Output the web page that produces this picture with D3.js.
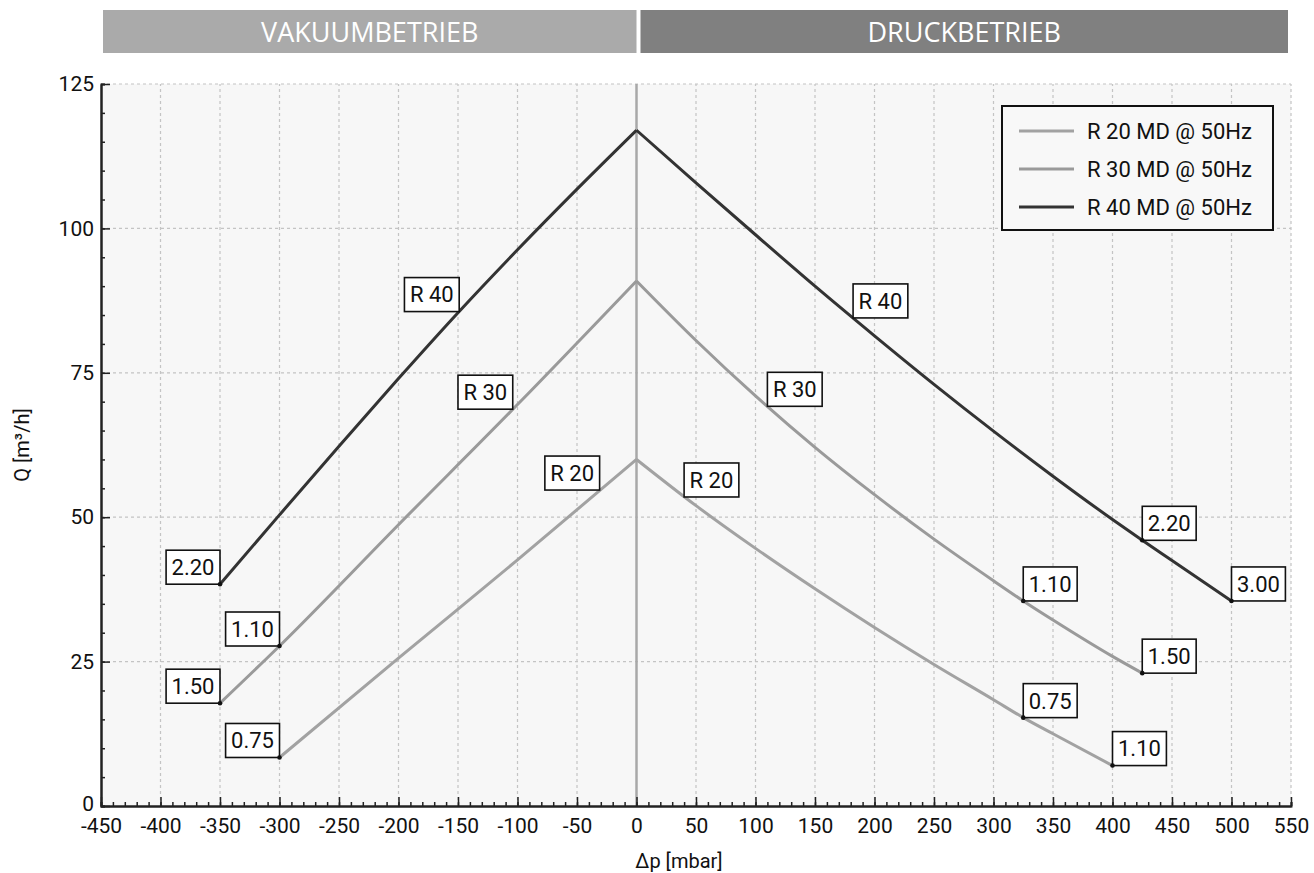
<!DOCTYPE html>
<html><head><meta charset="utf-8">
<script src="https://cdn.jsdelivr.net/npm/d3@7"></script>
<style>
body{margin:0;background:#fff}
svg{display:block}
text{font-family:Roboto,"DejaVu Sans",sans-serif}
</style>
</head><body>
<svg id="c" width="1314" height="873"></svg>
<script>
// ---- data ----
const xTickValues = [-450,-400,-350,-300,-250,-200,-150,-100,-50,0,50,100,150,200,250,300,350,400,450,500,550];
const xMinorTicks = [-450,-440,-430,-420,-410,-400,-390,-380,-370,-360,-350,-340,-330,-320,-310,-300,-290,-280,-270,-260,-250,-240,-230,-220,-210,-200,-190,-180,-170,-160,-150,-140,-130,-120,-110,-100,-90,-80,-70,-60,-50,-40,-30,-20,-10,0,10,20,30,40,50,60,70,80,90,100,110,120,130,140,150,160,170,180,190,200,210,220,230,240,250,260,270,280,290,300,310,320,330,340,350,360,370,380,390,400,410,420,430,440,450,460,470,480,490,500,510,520,530,540,550];
const yTickValues = [0,25,50,75,100,125];
const yMinorTicks = [0,5,10,15,20,25,30,35,40,45,50,55,60,65,70,75,80,85,90,95,100,105,110,115,120,125];
const sectionNames = ["VAKUUMBETRIEB","DRUCKBETRIEB"];
const seriesNames = ["R 20 MD @ 50Hz","R 30 MD @ 50Hz","R 40 MD @ 50Hz"];
const shortNames = ["R 20","R 30","R 40"];

// [Δp mbar, Q m³/h]
const r20Vacuum   = [[-300,8.4],[-200,25.6],[-100,42.6],[0,60]];
const r20Pressure = [[0,60],[50,52.0],[100,44.6],[150,37.6],[200,30.9],[250,24.5],[300,18.4],[325,15.3],[350,12.5],[400,7.0]];
const r30Vacuum   = [[-350,17.8],[-300,27.7],[-200,48.7],[-100,69.5],[0,90.9]];
const r30Pressure = [[0,90.9],[50,80.6],[100,71.0],[150,62.1],[200,53.9],[250,46.2],[300,39.0],[325,35.5],[350,32.2],[400,25.9],[425,23.0]];
const r40Vacuum   = [[-350,38.4],[-300,50.4],[-250,62.3],[-200,74.0],[-150,85.4],[-100,96.3],[-50,106.8],[0,117]];
const r40Pressure = [[0,117],[50,107.9],[100,98.9],[150,90.0],[200,81.4],[250,73.0],[300,64.9],[350,57.1],[400,49.6],[425,46.0],[450,42.5],[500,35.5]];

// power labels at operating points: [Δp, Q, text, series]
const powerPoints = [
  [-300,8.4,"0.75",0],[325,15.3,"0.75",0],[400,7.0,"1.10",0],
  [-350,17.8,"1.50",1],[-300,27.7,"1.10",1],[325,35.5,"1.10",1],[425,23.0,"1.50",1],
  [-350,38.4,"2.20",2],[425,46.0,"2.20",2],[500,35.5,"3.00",2]
];
// series name labels anchored on curve: [Δp, Q, series]
const nameLabels = [
  [-31,54.7,0],[40,53.5,0],
  [-104,68.7,1],[110,69.2,1],
  [-149,85.6,2],[182,84.5,2]
];

const colors = ["#a2a2a2","#9a9a9a","#333333"];

// ---- chart ----
const svg = d3.select("#c");
const x = d3.scaleLinear().domain([-450,550]).range([101,1291]);
const y = d3.scaleLinear().domain([0,125]).range([806,84]);

// banners
const banners = [[-450,0,"#aaaaaa"],[0,550,"#808080"]];
banners.forEach((b,i)=>{
  const x0 = x(b[0]) + (i===0?2:4), x1 = x(b[1]) - (i===0?0:3);
  svg.append("rect").attr("x",x0).attr("y",10).attr("width",x1-x0).attr("height",43).attr("fill",b[2]);
  svg.append("text").attr("x",(x0+x1)/2).attr("y",32).attr("dy","0.36em")
    .attr("text-anchor","middle").attr("fill","#fff").style("font-family","'Open Sans',sans-serif")
    .attr("font-size",27).text(sectionNames[i]);
});

// plot background
svg.append("rect").attr("x",x(-450)).attr("y",y(125))
  .attr("width",x(550)-x(-450)).attr("height",y(0)-y(125)).attr("fill","#f7f7f7");

// grid
const grid = svg.append("g").attr("stroke","#c4c4c4").attr("stroke-dasharray","3,3").attr("stroke-width",1.2);
grid.selectAll("line.v").data(xTickValues.filter(v=>v!==-450 && v!==0)).join("line")
  .attr("x1",d=>x(d)).attr("x2",d=>x(d)).attr("y1",y(0)).attr("y2",y(125));
grid.selectAll("line.h").data(yTickValues.filter(v=>v!==0)).join("line")
  .attr("x1",x(-450)).attr("x2",x(550)).attr("y1",d=>y(d)).attr("y2",d=>y(d));

// zero line
svg.append("line").attr("x1",x(0)).attr("x2",x(0)).attr("y1",y(0)).attr("y2",y(125))
  .attr("stroke","#a8a8a8").attr("stroke-width",2.5);

// axes
const axisStyle = g => {
  g.select(".domain").attr("stroke","#222").attr("stroke-width",2);
  g.selectAll(".tick line").attr("stroke","#222").attr("stroke-width",1.5);
  g.selectAll(".tick text").attr("fill","#111").attr("font-size",21).style("font-family","Roboto,sans-serif");
};
svg.append("g").attr("transform",`translate(0,${y(0)})`)
  .call(d3.axisBottom(x).tickValues(xMinorTicks).tickSize(-4).tickFormat(""))
  .call(axisStyle);
svg.append("g").attr("transform",`translate(0,${y(0)})`)
  .call(d3.axisBottom(x).tickValues(xTickValues).tickSize(-9).tickSizeOuter(0).tickPadding(12).tickFormat(d=>String(d)))
  .call(axisStyle);
svg.append("g").attr("transform",`translate(${x(-450)},0)`)
  .call(d3.axisLeft(y).tickValues(yMinorTicks).tickSize(-4).tickFormat(""))
  .call(axisStyle);
const yAxisG = svg.append("g").attr("transform",`translate(${x(-450)},0)`)
  .call(d3.axisLeft(y).tickValues(yTickValues).tickSize(-9).tickSizeOuter(0).tickPadding(7).tickFormat(d=>String(d)))
  .call(axisStyle);
yAxisG.selectAll(".tick text").filter(d=>d===0).attr("dy","0.2em");

// axis titles
svg.append("text").attr("x",679).attr("y",861).attr("dy","0.36em").attr("text-anchor","middle")
  .attr("font-size",20).attr("fill","#111").text("Δp [mbar]");
svg.append("text").attr("transform","translate(22,445) rotate(-90)").attr("dy","0.36em").attr("text-anchor","middle")
  .attr("font-size",20).attr("fill","#111").text("Q [m³/h]");

// curves
const line = d3.line().x(d=>x(d[0])).y(d=>y(d[1])).curve(d3.curveMonotoneX);
const curveSets = [[r20Vacuum,r20Pressure],[r30Vacuum,r30Pressure],[r40Vacuum,r40Pressure]];
curveSets.forEach((set,i)=>{
  set.forEach(pts=>{
    svg.append("path").datum(pts).attr("d",line).attr("fill","none")
      .attr("stroke",colors[i]).attr("stroke-width",3).attr("stroke-linejoin","round");
  });
});

// label boxes
function boxLabel(px,py,txt,anchorRight){
  const g = svg.append("g");
  const fs = 22, pad = 5.5, h = 34;
  const rect = g.append("rect");
  const t = g.append("text").attr("font-size",fs).attr("fill","#111").text(txt);
  const w = t.node().getComputedTextLength() + pad*2;
  const rx = anchorRight ? px - w : px;
  const ry = py - h;
  rect.attr("x",rx).attr("y",ry).attr("width",w).attr("height",h)
    .attr("fill","#fff").attr("stroke","#111").attr("stroke-width",1.6);
  t.attr("x",rx+pad).attr("y",ry+h/2).attr("dy","0.36em");
}
nameLabels.forEach(d=>boxLabel(x(d[0]),y(d[1]),shortNames[d[2]],d[0]<0));
powerPoints.forEach(d=>boxLabel(x(d[0]),y(d[1]),d[2],d[0]<0));

// dots
svg.append("g").selectAll("circle").data(powerPoints).join("circle")
  .attr("cx",d=>x(d[0])).attr("cy",d=>y(d[1])).attr("r",2.3).attr("fill","#111");

// legend
const lg = svg.append("g");
lg.append("rect").attr("x",1002).attr("y",106).attr("width",271).attr("height",124)
  .attr("fill","#f8f8f8").attr("stroke","#111").attr("stroke-width",2);
seriesNames.forEach((n,i)=>{
  const ly = 131 + i*38;
  lg.append("line").attr("x1",1019).attr("x2",1074).attr("y1",ly).attr("y2",ly)
    .attr("stroke",colors[i]).attr("stroke-width",3);
  lg.append("text").attr("x",1087).attr("y",ly).attr("dy","0.36em").attr("font-size",22)
    .attr("fill","#111").text(n);
});
</script>
</body></html>
